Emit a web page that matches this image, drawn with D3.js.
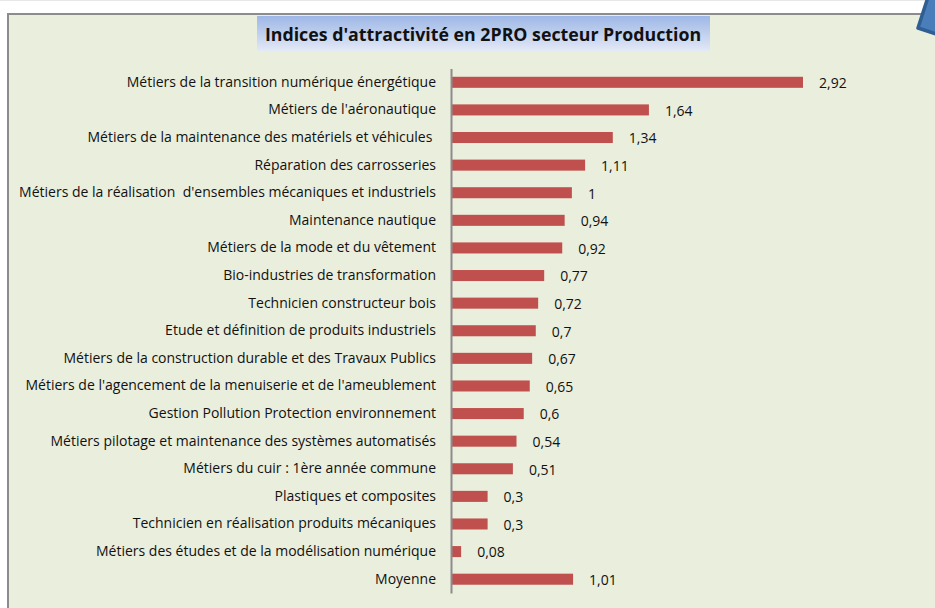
<!DOCTYPE html>
<html>
<head>
<meta charset="utf-8">
<script src="https://cdn.jsdelivr.net/npm/d3@7"></script>
<style>
  html, body { margin: 0; padding: 0; background: #fff; }
  text { font-family: "Open Sans", sans-serif; fill: #111; }
</style>
</head>
<body>
<div class="chart"></div>
<script>
const categories = [
  "Métiers de la transition numérique énergétique",
  "Métiers de l'aéronautique",
  "Métiers de la maintenance des matériels et véhicules ",
  "Réparation des carrosseries",
  "Métiers de la réalisation  d'ensembles mécaniques et industriels",
  "Maintenance nautique",
  "Métiers de la mode et du vêtement",
  "Bio-industries de transformation",
  "Technicien constructeur bois",
  "Etude et définition de produits industriels",
  "Métiers de la construction durable et des Travaux Publics",
  "Métiers de l'agencement de la menuiserie et de l'ameublement",
  "Gestion Pollution Protection environnement",
  "Métiers pilotage et maintenance des systèmes automatisés",
  "Métiers du cuir : 1ère année commune",
  "Plastiques et composites",
  "Technicien en réalisation produits mécaniques",
  "Métiers des études et de la modélisation numérique",
  "Moyenne"
];
const values = [2.92, 1.64, 1.34, 1.11, 1, 0.94, 0.92, 0.77, 0.72, 0.7, 0.67, 0.65, 0.6, 0.54, 0.51, 0.3, 0.3, 0.08, 1.01];
const chartTitle = "Indices d'attractivité en 2PRO secteur Production";

const width = 935, height = 608;

const svg = d3.select(".chart").append("svg")
  .attr("width", width)
  .attr("height", height)
  .style("display", "block");

const defs = svg.append("defs");
const grad = defs.append("linearGradient")
  .attr("id", "titleFill")
  .attr("x1", 0).attr("y1", 0).attr("x2", 0).attr("y2", 1);
grad.append("stop").attr("offset", "0%").attr("stop-color", "#9db7e6");
grad.append("stop").attr("offset", "100%").attr("stop-color", "#e3e9f6");

// page strip and panel
svg.append("rect").attr("width", width).attr("height", 1).attr("fill", "#e8e8e8");
svg.append("rect")
  .attr("x", 8).attr("y", 14)
  .attr("width", width + 10).attr("height", height)
  .attr("fill", "#eaeedd")
  .attr("stroke", "#8c8c8c")
  .attr("stroke-width", 2);

// corner decoration
svg.append("path")
  .attr("d", "M929,-6 L918,28 L945,37 L955,-6 Z")
  .attr("fill", "#4a7ebb")
  .attr("stroke", "#2f5f92")
  .attr("stroke-width", 3.5)
  .attr("stroke-linejoin", "round");

// title
svg.append("rect")
  .attr("x", 257).attr("y", 16)
  .attr("width", 453).attr("height", 35)
  .attr("fill", "url(#titleFill)");
svg.append("text")
  .attr("x", 483).attr("y", 35)
  .attr("dy", "0.35em")
  .attr("text-anchor", "middle")
  .attr("font-size", 17.75)
  .attr("font-weight", 700)
  .text(chartTitle);

const xScale = d3.scaleLinear().domain([0, 2.92]).range([451.5, 803]);
const yScale = d3.scaleBand().domain(categories).range([68.5, 593]).paddingInner(0.6).paddingOuter(0.3);

svg.selectAll(".bar")
  .data(values)
  .join("rect")
  .attr("class", "bar")
  .attr("x", xScale(0))
  .attr("y", (d, i) => yScale(categories[i]))
  .attr("width", d => xScale(d) - xScale(0))
  .attr("height", yScale.bandwidth())
  .attr("fill", "#c0504d");

// value labels
svg.selectAll(".val")
  .data(values)
  .join("text")
  .attr("class", "val")
  .attr("x", d => xScale(d) + 16)
  .attr("y", (d, i) => yScale(categories[i]) + yScale.bandwidth() / 2 + 1)
  .attr("dy", "0.35em")
  .attr("font-size", 14)
  .text(d => String(d).replace(".", ","));

// category axis
const yAxis = d3.axisLeft(yScale).tickSize(0).tickPadding(15);
const yAxisGraph = svg.append("g")
  .attr("class", "axis y-axis")
  .attr("transform", "translate(451,0)")
  .call(yAxis);
yAxisGraph.select(".domain").attr("stroke", "#8c8c8c").attr("stroke-width", 2);
yAxisGraph.selectAll("text")
  .attr("font-size", 14)
  .style("font-family", "'Open Sans', sans-serif")
  .style("white-space", "pre")
  .attr("fill", "#111");
</script>
</body>
</html>
